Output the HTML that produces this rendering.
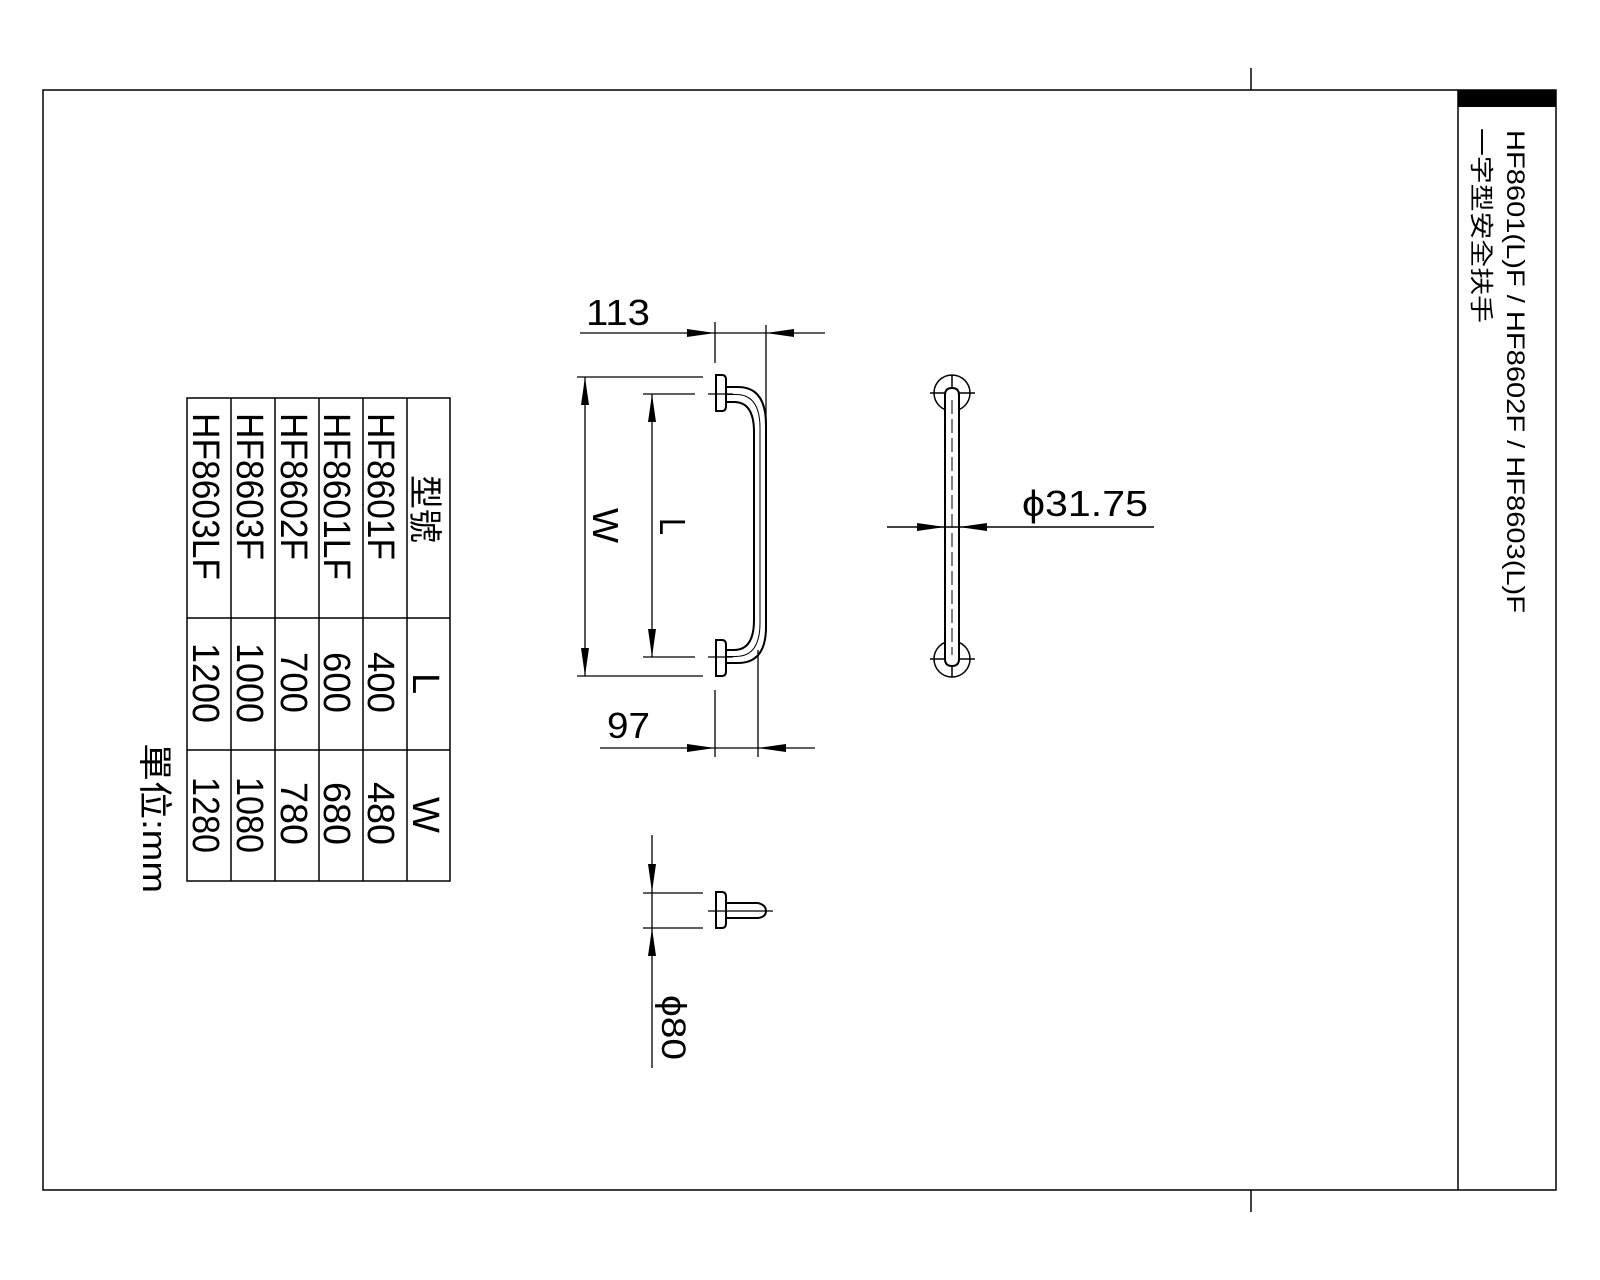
<!DOCTYPE html>
<html><head><meta charset="utf-8"><style>html,body{margin:0;padding:0;background:#fff}svg{display:block}</style></head>
<body>
<svg width="1600" height="1280" viewBox="0 0 1600 1280" xmlns="http://www.w3.org/2000/svg" font-family="'Liberation Sans','Noto Sans CJK TC',sans-serif">
<g stroke="#000" fill="none" stroke-width="1.5">
<rect x="43" y="90" width="1513" height="1100"/>
<line x1="1458" y1="90" x2="1458" y2="1190"/>
<line x1="1251" y1="68" x2="1251" y2="90"/>
<line x1="1251" y1="1190" x2="1251" y2="1212"/>
</g>
<rect x="1458" y="90" width="98" height="17" fill="#000"/>
<text transform="translate(1507,130) rotate(90)" font-size="25" textLength="483" lengthAdjust="spacingAndGlyphs">HF8601(L)F / HF8602F / HF8603(L)F</text>
<text transform="translate(1473,128) rotate(90)" font-size="24" textLength="195" lengthAdjust="spacingAndGlyphs">一字型安全扶手</text>

<!-- table -->
<g stroke="#000" stroke-width="1.5" fill="none">
<rect x="187" y="398" width="263" height="483"/>
<line x1="231" y1="398" x2="231" y2="881"/>
<line x1="275" y1="398" x2="275" y2="881"/>
<line x1="319" y1="398" x2="319" y2="881"/>
<line x1="363" y1="398" x2="363" y2="881"/>
<line x1="407" y1="398" x2="407" y2="881"/>
<line x1="187" y1="618" x2="450" y2="618"/>
<line x1="187" y1="750" x2="450" y2="750"/>
</g>
<g font-size="38">
<text transform="translate(413,475) rotate(90)" font-size="34" textLength="68" lengthAdjust="spacingAndGlyphs">型號</text>
<text transform="translate(413,673) rotate(90)" font-size="38">L</text>
<text transform="translate(413,797) rotate(90)" font-size="38">W</text>
<text transform="translate(368,413) rotate(90)" textLength="147" lengthAdjust="spacingAndGlyphs">HF8601F</text>
<text transform="translate(324,413) rotate(90)" textLength="167" lengthAdjust="spacingAndGlyphs">HF8601LF</text>
<text transform="translate(281,413) rotate(90)" textLength="147" lengthAdjust="spacingAndGlyphs">HF8602F</text>
<text transform="translate(237,413) rotate(90)" textLength="147" lengthAdjust="spacingAndGlyphs">HF8603F</text>
<text transform="translate(193,413) rotate(90)" textLength="167" lengthAdjust="spacingAndGlyphs">HF8603LF</text>
<text transform="translate(368,652) rotate(90)" textLength="61" lengthAdjust="spacingAndGlyphs">400</text>
<text transform="translate(324,652) rotate(90)" textLength="61" lengthAdjust="spacingAndGlyphs">600</text>
<text transform="translate(281,652) rotate(90)" textLength="61" lengthAdjust="spacingAndGlyphs">700</text>
<text transform="translate(237,643) rotate(90)" textLength="80" lengthAdjust="spacingAndGlyphs">1000</text>
<text transform="translate(193,643) rotate(90)" textLength="80" lengthAdjust="spacingAndGlyphs">1200</text>
<text transform="translate(368,782) rotate(90)" textLength="63" lengthAdjust="spacingAndGlyphs">480</text>
<text transform="translate(324,782) rotate(90)" textLength="63" lengthAdjust="spacingAndGlyphs">680</text>
<text transform="translate(281,782) rotate(90)" textLength="63" lengthAdjust="spacingAndGlyphs">780</text>
<text transform="translate(237,777) rotate(90)" textLength="76" lengthAdjust="spacingAndGlyphs">1080</text>
<text transform="translate(193,777) rotate(90)" textLength="76" lengthAdjust="spacingAndGlyphs">1280</text>
<text transform="translate(143,743) rotate(90)" font-size="34" textLength="150" lengthAdjust="spacingAndGlyphs">單位:mm</text>
</g>

<!-- side view -->
<g stroke="#000" stroke-width="1.3" fill="none">
<line x1="580" y1="333" x2="825" y2="333"/>
<line x1="715" y1="322" x2="715" y2="363"/>
<line x1="766" y1="325" x2="766" y2="425"/>
<line x1="577" y1="377" x2="703" y2="377"/>
<line x1="577" y1="676" x2="703" y2="676"/>
<line x1="643" y1="394" x2="695" y2="394"/>
<line x1="643" y1="657" x2="695" y2="657"/>
<line x1="585" y1="377" x2="585" y2="676"/>
<line x1="652" y1="394" x2="652" y2="657"/>
<line x1="600" y1="748" x2="815" y2="748"/>
<line x1="715" y1="690" x2="715" y2="757"/>
<line x1="758" y1="650" x2="758" y2="757"/>
<line x1="708" y1="394" x2="733" y2="394"/>
<line x1="708" y1="657" x2="733" y2="657"/>
</g>
<g stroke="#000" stroke-width="2" fill="none">
<path d="M716 375 H722 Q726 375 726 380 V406 Q726 411 722 411 H716 Z"/>
<path d="M716 640 H722 Q726 640 726 645 V671 Q726 676 722 676 H716 Z"/>
<path d="M726 387 H738 Q766 387 766 425 V627 Q766 663 738 663 H726"/>
<path d="M726 402 H734 Q754 402 754 432 V620 Q754 650 734 650 H726"/>
</g>
<path d="M726 394.5 H736 Q760 394.5 760 428 V623 Q760 656.5 736 656.5 H726" stroke="#000" stroke-width="1" fill="none"/>
<line x1="760" y1="430" x2="760" y2="620" stroke="#000" stroke-width="1" stroke-dasharray="14,5"/>
<g fill="#000">
<polygon points="715,333 687,329 687,337"/>
<polygon points="766,333 794,329 794,337"/>
<polygon points="715,748 687,744 687,752"/>
<polygon points="758,748 786,744 786,752"/>
<polygon points="585,377 581,405 589,405"/>
<polygon points="585,676 581,648 589,648"/>
<polygon points="652,394 648,422 656,422"/>
<polygon points="652,657 648,629 656,629"/>
</g>
<g font-size="36">
<text x="586" y="325" textLength="64" lengthAdjust="spacingAndGlyphs">113</text>
<text x="607" y="738" textLength="43" lengthAdjust="spacingAndGlyphs">97</text>
<text transform="translate(593,508) rotate(90)" textLength="35" lengthAdjust="spacingAndGlyphs">W</text>
<text transform="translate(660,518) rotate(90)" textLength="17" lengthAdjust="spacingAndGlyphs">L</text>
</g>

<!-- front view -->
<g stroke="#000" stroke-width="1.5" fill="none">
<circle cx="952" cy="393" r="18"/>
<circle cx="952" cy="659" r="18"/>
<line x1="930" y1="393" x2="975" y2="393"/>
<line x1="952" y1="375" x2="952" y2="411"/>
<line x1="930" y1="659" x2="975" y2="659"/>
<line x1="952" y1="641" x2="952" y2="677"/>
</g>
<path d="M945 659 V395 Q945 388 952 388 Q959 388 959 395 V659 Q959 666 952 666 Q945 666 945 659 Z" stroke="#000" stroke-width="2" fill="#fff"/>
<line x1="952" y1="400" x2="952" y2="655" stroke="#000" stroke-width="1" stroke-dasharray="14,5"/>
<line x1="887" y1="527" x2="1154" y2="527" stroke="#000" stroke-width="1.5"/>
<g fill="#000">
<polygon points="945,527 917,523 917,531"/>
<polygon points="959,527 987,523 987,531"/>
</g>
<text x="1022" y="516" font-size="36" textLength="126" lengthAdjust="spacingAndGlyphs">ϕ31.75</text>

<!-- flange detail -->
<g stroke="#000" stroke-width="1.3" fill="none">
<line x1="652" y1="835" x2="652" y2="1068"/>
<line x1="643" y1="893" x2="703" y2="893"/>
<line x1="643" y1="928" x2="703" y2="928"/>
<line x1="708" y1="911" x2="773" y2="911"/>
</g>
<g stroke="#000" stroke-width="2" fill="none">
<path d="M716 892 H722 Q726 892 726 897 V923 Q726 928 722 928 H716 Z"/>
<path d="M726 903 H758 Q766 905 766 911 Q766 917 758 918 H726"/>
</g>
<g fill="#000">
<polygon points="652,892 648,864 656,864"/>
<polygon points="652,928 648,956 656,956"/>
</g>
<text transform="translate(662,995) rotate(90)" font-size="34" textLength="65" lengthAdjust="spacingAndGlyphs">ϕ80</text>
</svg>
</body></html>
